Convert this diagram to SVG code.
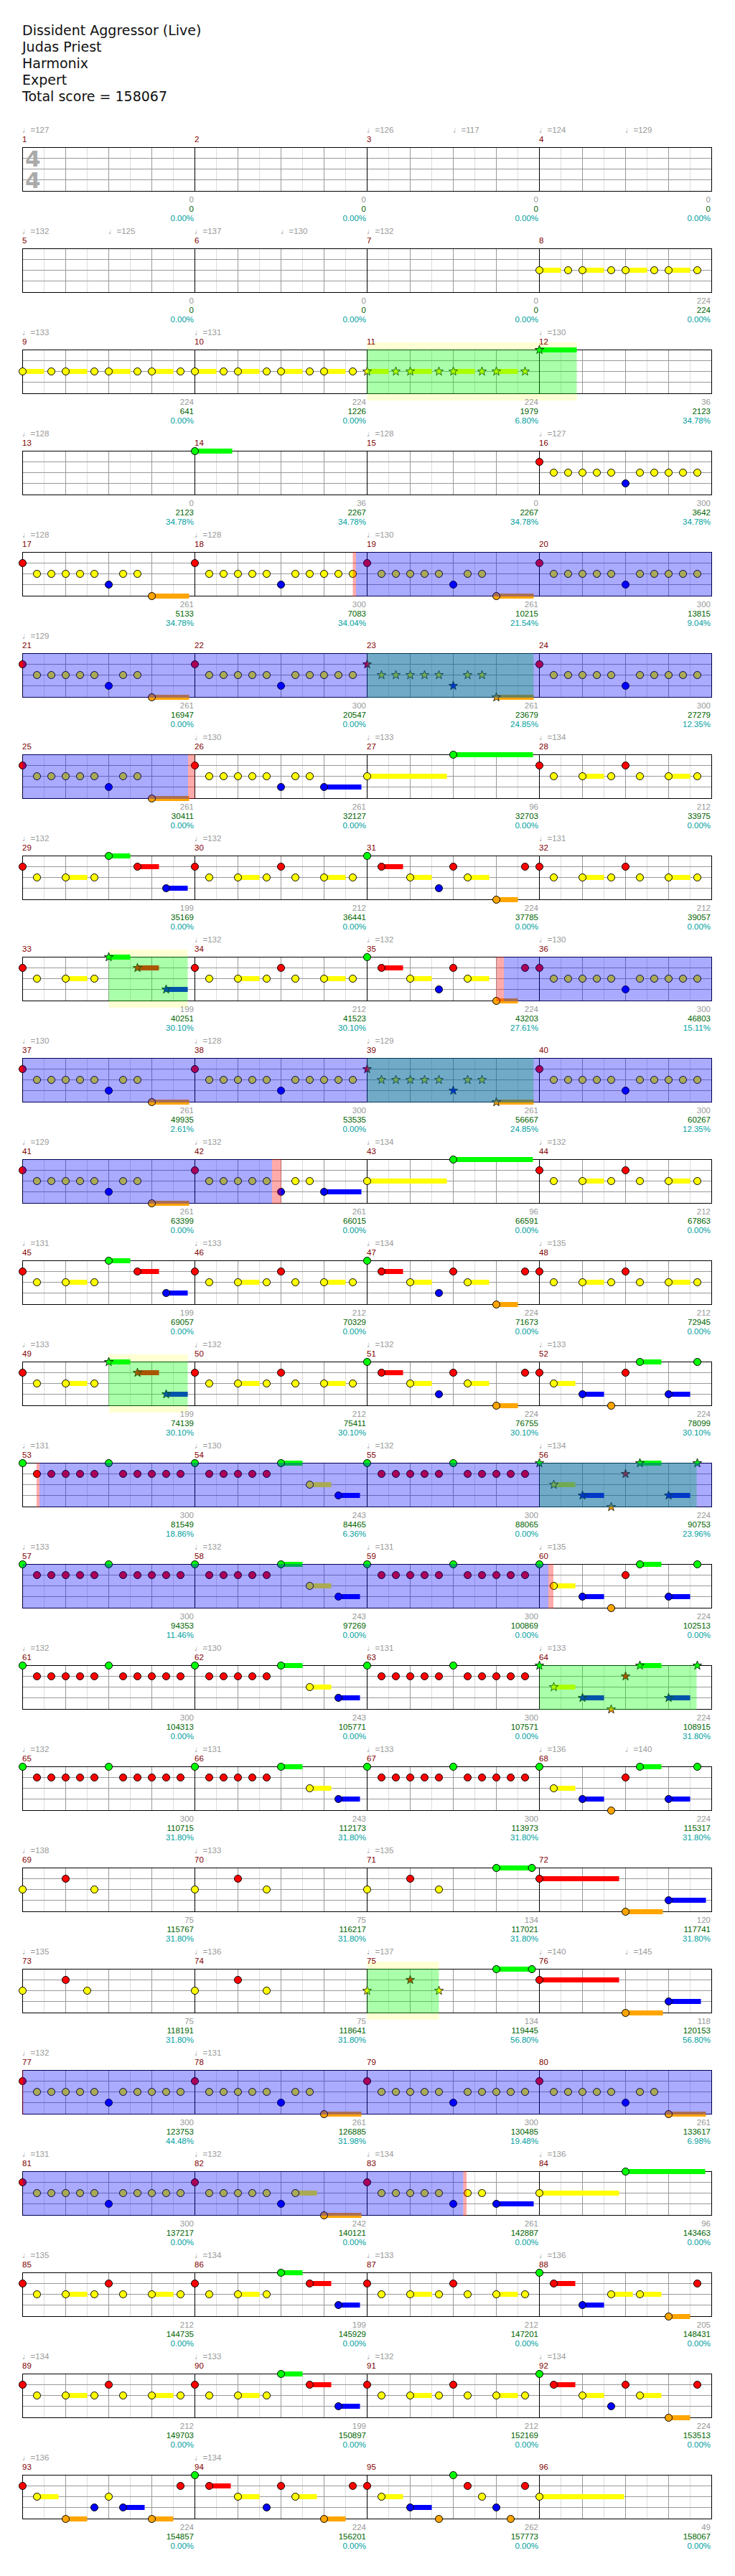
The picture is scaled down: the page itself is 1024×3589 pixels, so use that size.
<svg xmlns="http://www.w3.org/2000/svg" width="1024" height="3589" viewBox="0 0 1024 3589">
<style>
text{font-family:'Liberation Sans',Arial,sans-serif;font-size:11.5px}
.ti{font-family:'DejaVu Sans',Verdana,sans-serif;font-size:19px;fill:#111}
.ts{font-family:'DejaVu Sans',sans-serif;font-size:31px;font-weight:bold;fill:#aaa}
.tp{fill:#999}
.mn{fill:#800000}
.a,.b2,.c3{text-anchor:end}
.a{fill:#999}.b2{fill:#006400}.c3{fill:#00a0a0}
.g{fill:#0f0}.r{fill:#f00}.y{fill:#ff0}.b{fill:#00f}.o{fill:#ffa500}
.n{stroke:#000;stroke-width:1}
.st{stroke:#000;stroke-width:.8}
.ov{fill:#00f;fill-opacity:.333}
.sp{fill:#0f0;fill-opacity:.333}
.pk{fill:#f00;fill-opacity:.333}
.yr{fill:#ffffd4}
</style>
<defs>
<g id="staff">
<rect x="31.5" y="0.5" width="960" height="61" fill="#fff"/>
<path stroke="#ddd" d="M61.5 1V61M121.5 1V61M181.5 1V61M241.5 1V61M301.5 1V61M361.5 1V61M421.5 1V61M481.5 1V61M541.5 1V61M601.5 1V61M661.5 1V61M721.5 1V61M781.5 1V61M841.5 1V61M901.5 1V61M961.5 1V61"/>
<path stroke="#999" d="M91.5 1V61M151.5 1V61M211.5 1V61M331.5 1V61M391.5 1V61M451.5 1V61M571.5 1V61M631.5 1V61M691.5 1V61M811.5 1V61M871.5 1V61M931.5 1V61M32 15.5H991M32 30.5H991M32 45.5H991"/>
<path stroke="#000" d="M271.5 1V61M511.5 1V61M751.5 1V61"/>
<rect x="31.5" y="0.5" width="960" height="61" fill="none" stroke="#000"/>
</g>
<circle id="G" cy="0.5" r="5" class="g n"/>
<circle id="R" cy="15.5" r="5" class="r n"/>
<circle id="Y" cy="30.5" r="5" class="y n"/>
<circle id="B" cy="45.5" r="5" class="b n"/>
<circle id="O" cy="61.5" r="5" class="o n"/>
<path id="SG" class="g st" transform="translate(0 .5)" d="M0-6.5L1.53-2.1L6.18-2.01L2.47.8L3.82 5.26L0 2.6L-3.82 5.26L-2.47.8L-6.18-2.01L-1.53-2.1Z"/>
<path id="SR" class="r st" transform="translate(0 15.5)" d="M0-6.5L1.53-2.1L6.18-2.01L2.47.8L3.82 5.26L0 2.6L-3.82 5.26L-2.47.8L-6.18-2.01L-1.53-2.1Z"/>
<path id="SY" class="y st" transform="translate(0 30.5)" d="M0-6.5L1.53-2.1L6.18-2.01L2.47.8L3.82 5.26L0 2.6L-3.82 5.26L-2.47.8L-6.18-2.01L-1.53-2.1Z"/>
<path id="SB" class="b st" transform="translate(0 45.5)" d="M0-6.5L1.53-2.1L6.18-2.01L2.47.8L3.82 5.26L0 2.6L-3.82 5.26L-2.47.8L-6.18-2.01L-1.53-2.1Z"/>
<path id="SO" class="o st" transform="translate(0 61.5)" d="M0-6.5L1.53-2.1L6.18-2.01L2.47.8L3.82 5.26L0 2.6L-3.82 5.26L-2.47.8L-6.18-2.01L-1.53-2.1Z"/>
<g id="rY"><use href="#R"/><use href="#Y" x="20"/><use href="#Y" x="40"/><use href="#Y" x="60"/><use href="#Y" x="80"/><use href="#Y" x="100"/><use href="#B" x="120"/></g>
<g id="pA"><rect class="o" x="180" y="58" width="52" height="7"/><use href="#rY"/><use href="#Y" x="140"/><use href="#Y" x="160"/><use href="#O" x="180"/></g>
<g id="pB"><use href="#rY"/><use href="#Y" x="140"/><use href="#Y" x="160"/><use href="#Y" x="180"/><use href="#Y" x="200"/><use href="#Y" x="220"/></g>
<g id="pK"><rect class="b" x="180" y="42" width="52" height="7"/><use href="#rY"/><use href="#Y" x="140"/><use href="#Y" x="160"/><use href="#B" x="180"/></g>
<g id="pAs"><rect class="o" x="180" y="58" width="52" height="7"/><use href="#SR"/><use href="#SY" x="20"/><use href="#SY" x="40"/><use href="#SY" x="60"/><use href="#SY" x="80"/><use href="#SY" x="100"/><use href="#SB" x="120"/><use href="#SY" x="140"/><use href="#SY" x="160"/><use href="#SO" x="180"/></g>
<g id="pC"><rect class="y" x="60" y="27" width="30" height="7"/><rect class="y" x="180" y="27" width="30" height="7"/><use href="#R"/><use href="#Y" x="20"/><use href="#Y" x="60"/><use href="#Y" x="100"/><use href="#R" x="120"/><use href="#Y" x="140"/><use href="#Y" x="180"/><use href="#Y" x="220"/></g>
<g id="pD"><rect class="r" x="20" y="12" width="30" height="7"/><rect class="y" x="60" y="27" width="30" height="7"/><rect class="y" x="140" y="27" width="30" height="7"/><rect class="o" x="180" y="58" width="30" height="7"/><use href="#G"/><use href="#R" x="20"/><use href="#Y" x="60"/><use href="#B" x="100"/><use href="#R" x="120"/><use href="#Y" x="140"/><use href="#O" x="180"/><use href="#R" x="220"/></g>
<g id="pE"><rect class="y" x="60" y="27" width="30" height="7"/><rect class="g" x="120" y="-3" width="30" height="7"/><rect class="r" x="160" y="12" width="30" height="7"/><rect class="b" x="200" y="42" width="30" height="7"/><use href="#R"/><use href="#Y" x="20"/><use href="#Y" x="60"/><use href="#Y" x="100"/><use href="#G" x="120"/><use href="#R" x="160"/><use href="#B" x="200"/></g>
<g id="pEs"><rect class="y" x="60" y="27" width="30" height="7"/><rect class="g" x="120" y="-3" width="30" height="7"/><rect class="r" x="160" y="12" width="30" height="7"/><rect class="b" x="200" y="42" width="30" height="7"/><use href="#R"/><use href="#Y" x="20"/><use href="#Y" x="60"/><use href="#Y" x="100"/><use href="#SG" x="120"/><use href="#SR" x="160"/><use href="#SB" x="200"/></g>
<g id="pF0"><rect class="y" x="20" y="27" width="30" height="7"/><rect class="b" x="60" y="42" width="30" height="7"/><rect class="g" x="140" y="-3" width="30" height="7"/><rect class="b" x="180" y="42" width="30" height="7"/><use href="#Y" x="20"/><use href="#B" x="60"/><use href="#O" x="100"/><use href="#R" x="120"/><use href="#G" x="140"/><use href="#B" x="180"/><use href="#G" x="220"/></g>
<g id="pFs"><rect class="y" x="20" y="27" width="30" height="7"/><rect class="b" x="60" y="42" width="30" height="7"/><rect class="g" x="140" y="-3" width="30" height="7"/><rect class="b" x="180" y="42" width="30" height="7"/><use href="#SG"/><use href="#SY" x="20"/><use href="#SB" x="60"/><use href="#SO" x="100"/><use href="#SR" x="120"/><use href="#SG" x="140"/><use href="#SB" x="180"/><use href="#SG" x="220"/></g>
<g id="r5"><use href="#R" x="20"/><use href="#R" x="40"/><use href="#R" x="60"/><use href="#R" x="80"/><use href="#R" x="100"/></g>
<g id="pG"><use href="#G"/><use href="#r5"/><use href="#G" x="120"/><use href="#r5" x="120"/></g>
<g id="pH"><rect class="g" x="120" y="-3" width="30" height="7"/><rect class="y" x="160" y="27" width="30" height="7"/><rect class="b" x="200" y="42" width="30" height="7"/><use href="#G"/><use href="#r5"/><use href="#G" x="120"/><use href="#Y" x="160"/><use href="#B" x="200"/></g>
<g id="pL"><rect class="y" x="0" y="27" width="111" height="7"/><rect class="g" x="120" y="-3" width="111" height="7"/><use href="#Y"/><use href="#G" x="120"/></g>
<g id="pM"><use href="#Y"/><use href="#R" x="60"/><use href="#Y" x="100"/></g>
<g id="p8"><rect class="y" x="0" y="27" width="30" height="7"/><rect class="y" x="60" y="27" width="30" height="7"/><rect class="y" x="120" y="27" width="30" height="7"/><rect class="y" x="180" y="27" width="30" height="7"/><use href="#Y"/><use href="#Y" x="40"/><use href="#Y" x="60"/><use href="#Y" x="100"/><use href="#Y" x="120"/><use href="#Y" x="160"/><use href="#Y" x="180"/><use href="#Y" x="220"/></g>
<g id="p8s"><rect class="y" x="0" y="27" width="30" height="7"/><rect class="y" x="60" y="27" width="30" height="7"/><rect class="y" x="120" y="27" width="30" height="7"/><rect class="y" x="180" y="27" width="30" height="7"/><use href="#SY"/><use href="#SY" x="40"/><use href="#SY" x="60"/><use href="#SY" x="100"/><use href="#SY" x="120"/><use href="#SY" x="160"/><use href="#SY" x="180"/><use href="#SY" x="220"/></g>
</defs>
<rect width="1024" height="3589" fill="#fff"/>
<g id="title">
<text class="ti" x="31" y="49">Dissident Aggressor (Live)</text>
<text class="ti" x="31" y="72">Judas Priest</text>
<text class="ti" x="31" y="95">Harmonix</text>
<text class="ti" x="31" y="118">Expert</text>
<text class="ti" x="31" y="141">Total score = 158067</text>
</g>

<g id="row1" transform="translate(0,205)">
<use href="#staff"/>
<text class="ts" x="35" y="27">4</text><text class="ts" x="35" y="57">4</text>
<text class="tp" x="31" y="-20">♩=127</text><text class="tp" x="511" y="-20">♩=126</text><text class="tp" x="631" y="-20">♩=117</text><text class="tp" x="751" y="-20">♩=124</text><text class="tp" x="871" y="-20">♩=129</text>
<text class="mn" x="31" y="-7">1</text><text class="mn" x="271" y="-7">2</text><text class="mn" x="511" y="-7">3</text><text class="mn" x="751" y="-7">4</text>
<text class="a" x="270" y="77">0</text><text class="b2" x="270" y="90">0</text><text class="c3" x="270" y="102.5">0.00%</text>
<text class="a" x="510" y="77">0</text><text class="b2" x="510" y="90">0</text><text class="c3" x="510" y="102.5">0.00%</text>
<text class="a" x="750" y="77">0</text><text class="b2" x="750" y="90">0</text><text class="c3" x="750" y="102.5">0.00%</text>
<text class="a" x="990" y="77">0</text><text class="b2" x="990" y="90">0</text><text class="c3" x="990" y="102.5">0.00%</text>
</g>

<g id="row2" transform="translate(0,346)">
<use href="#staff"/>
<g id="m8"><use href="#p8" x="751.5"/></g>
<text class="tp" x="31" y="-20">♩=132</text><text class="tp" x="151" y="-20">♩=125</text><text class="tp" x="271" y="-20">♩=137</text><text class="tp" x="391" y="-20">♩=130</text><text class="tp" x="511" y="-20">♩=132</text>
<text class="mn" x="31" y="-7">5</text><text class="mn" x="271" y="-7">6</text><text class="mn" x="511" y="-7">7</text><text class="mn" x="751" y="-7">8</text>
<text class="a" x="270" y="77">0</text><text class="b2" x="270" y="90">0</text><text class="c3" x="270" y="102.5">0.00%</text>
<text class="a" x="510" y="77">0</text><text class="b2" x="510" y="90">0</text><text class="c3" x="510" y="102.5">0.00%</text>
<text class="a" x="750" y="77">0</text><text class="b2" x="750" y="90">0</text><text class="c3" x="750" y="102.5">0.00%</text>
<text class="a" x="990" y="77">224</text><text class="b2" x="990" y="90">224</text><text class="c3" x="990" y="102.5">0.00%</text>
</g>

<g id="row3" transform="translate(0,487)">
<rect class="yr" x="511.5" y="-10" width="292" height="81"/>
<use href="#staff"/>
<g id="m9"><use href="#p8" x="31.5"/></g>
<g id="m10"><use href="#p8" x="271.5"/></g>
<g id="m11"><use href="#p8s" x="511.5"/></g>
<g id="m12"><rect class="g" x="751.5" y="-3" width="52" height="7"/><use href="#SG" x="751.5"/></g>
<rect class="sp" x="511.5" y="0" width="292" height="62"/>
<text class="tp" x="31" y="-20">♩=133</text><text class="tp" x="271" y="-20">♩=131</text><text class="tp" x="751" y="-20">♩=130</text>
<text class="mn" x="31" y="-7">9</text><text class="mn" x="271" y="-7">10</text><text class="mn" x="511" y="-7">11</text><text class="mn" x="751" y="-7">12</text>
<text class="a" x="270" y="77">224</text><text class="b2" x="270" y="90">641</text><text class="c3" x="270" y="102.5">0.00%</text>
<text class="a" x="510" y="77">224</text><text class="b2" x="510" y="90">1226</text><text class="c3" x="510" y="102.5">0.00%</text>
<text class="a" x="750" y="77">224</text><text class="b2" x="750" y="90">1979</text><text class="c3" x="750" y="102.5">6.80%</text>
<text class="a" x="990" y="77">36</text><text class="b2" x="990" y="90">2123</text><text class="c3" x="990" y="102.5">34.78%</text>
</g>

<g id="row4" transform="translate(0,628)">
<use href="#staff"/>
<g id="m14"><rect class="g" x="271.5" y="-3" width="52" height="7"/><use href="#G" x="271.5"/></g>
<g id="m16"><use href="#pB" x="751.5"/></g>
<text class="tp" x="31" y="-20">♩=128</text><text class="tp" x="511" y="-20">♩=128</text><text class="tp" x="751" y="-20">♩=127</text>
<text class="mn" x="31" y="-7">13</text><text class="mn" x="271" y="-7">14</text><text class="mn" x="511" y="-7">15</text><text class="mn" x="751" y="-7">16</text>
<text class="a" x="270" y="77">0</text><text class="b2" x="270" y="90">2123</text><text class="c3" x="270" y="102.5">34.78%</text>
<text class="a" x="510" y="77">36</text><text class="b2" x="510" y="90">2267</text><text class="c3" x="510" y="102.5">34.78%</text>
<text class="a" x="750" y="77">0</text><text class="b2" x="750" y="90">2267</text><text class="c3" x="750" y="102.5">34.78%</text>
<text class="a" x="990" y="77">300</text><text class="b2" x="990" y="90">3642</text><text class="c3" x="990" y="102.5">34.78%</text>
</g>

<g id="row5" transform="translate(0,769)">
<use href="#staff"/>
<g id="m17"><use href="#pA" x="31.5"/></g>
<g id="m18"><use href="#pB" x="271.5"/></g>
<g id="m19"><use href="#pA" x="511.5"/></g>
<g id="m20"><use href="#pB" x="751.5"/></g>
<rect class="pk" x="491.5" y="0" width="4.5" height="62"/>
<rect class="ov" x="496" y="0" width="496" height="62"/>
<text class="tp" x="31" y="-20">♩=128</text><text class="tp" x="271" y="-20">♩=128</text><text class="tp" x="511" y="-20">♩=130</text>
<text class="mn" x="31" y="-7">17</text><text class="mn" x="271" y="-7">18</text><text class="mn" x="511" y="-7">19</text><text class="mn" x="751" y="-7">20</text>
<text class="a" x="270" y="77">261</text><text class="b2" x="270" y="90">5133</text><text class="c3" x="270" y="102.5">34.78%</text>
<text class="a" x="510" y="77">300</text><text class="b2" x="510" y="90">7083</text><text class="c3" x="510" y="102.5">34.04%</text>
<text class="a" x="750" y="77">261</text><text class="b2" x="750" y="90">10215</text><text class="c3" x="750" y="102.5">21.54%</text>
<text class="a" x="990" y="77">300</text><text class="b2" x="990" y="90">13815</text><text class="c3" x="990" y="102.5">9.04%</text>
</g>

<g id="row6" transform="translate(0,910)">
<use href="#staff"/>
<g id="m21"><use href="#pA" x="31.5"/></g>
<g id="m22"><use href="#pB" x="271.5"/></g>
<g id="m23"><use href="#pAs" x="511.5"/></g>
<g id="m24"><use href="#pB" x="751.5"/></g>
<rect class="sp" x="511.5" y="0" width="232" height="62"/>
<rect class="ov" x="31.5" y="0" width="960.5" height="62"/>
<text class="tp" x="31" y="-20">♩=129</text>
<text class="mn" x="31" y="-7">21</text><text class="mn" x="271" y="-7">22</text><text class="mn" x="511" y="-7">23</text><text class="mn" x="751" y="-7">24</text>
<text class="a" x="270" y="77">261</text><text class="b2" x="270" y="90">16947</text><text class="c3" x="270" y="102.5">0.00%</text>
<text class="a" x="510" y="77">300</text><text class="b2" x="510" y="90">20547</text><text class="c3" x="510" y="102.5">0.00%</text>
<text class="a" x="750" y="77">261</text><text class="b2" x="750" y="90">23679</text><text class="c3" x="750" y="102.5">24.85%</text>
<text class="a" x="990" y="77">300</text><text class="b2" x="990" y="90">27279</text><text class="c3" x="990" y="102.5">12.35%</text>
</g>

<g id="row7" transform="translate(0,1051)">
<use href="#staff"/>
<g id="m25"><use href="#pA" x="31.5"/></g>
<g id="m26"><use href="#pK" x="271.5"/></g>
<g id="m27"><use href="#pL" x="511.5"/></g>
<g id="m28"><use href="#pC" x="751.5"/></g>
<rect class="ov" x="31.5" y="0" width="230.5" height="62"/>
<rect class="pk" x="262" y="0" width="9.5" height="62"/>
<text class="tp" x="271" y="-20">♩=130</text><text class="tp" x="511" y="-20">♩=133</text><text class="tp" x="751" y="-20">♩=134</text>
<text class="mn" x="31" y="-7">25</text><text class="mn" x="271" y="-7">26</text><text class="mn" x="511" y="-7">27</text><text class="mn" x="751" y="-7">28</text>
<text class="a" x="270" y="77">261</text><text class="b2" x="270" y="90">30411</text><text class="c3" x="270" y="102.5">0.00%</text>
<text class="a" x="510" y="77">261</text><text class="b2" x="510" y="90">32127</text><text class="c3" x="510" y="102.5">0.00%</text>
<text class="a" x="750" y="77">96</text><text class="b2" x="750" y="90">32703</text><text class="c3" x="750" y="102.5">0.00%</text>
<text class="a" x="990" y="77">212</text><text class="b2" x="990" y="90">33975</text><text class="c3" x="990" y="102.5">0.00%</text>
</g>

<g id="row8" transform="translate(0,1192)">
<use href="#staff"/>
<g id="m29"><use href="#pE" x="31.5"/></g>
<g id="m30"><use href="#pC" x="271.5"/></g>
<g id="m31"><use href="#pD" x="511.5"/></g>
<g id="m32"><use href="#pC" x="751.5"/></g>
<text class="tp" x="31" y="-20">♩=132</text><text class="tp" x="271" y="-20">♩=132</text><text class="tp" x="751" y="-20">♩=131</text>
<text class="mn" x="31" y="-7">29</text><text class="mn" x="271" y="-7">30</text><text class="mn" x="511" y="-7">31</text><text class="mn" x="751" y="-7">32</text>
<text class="a" x="270" y="77">199</text><text class="b2" x="270" y="90">35169</text><text class="c3" x="270" y="102.5">0.00%</text>
<text class="a" x="510" y="77">212</text><text class="b2" x="510" y="90">36441</text><text class="c3" x="510" y="102.5">0.00%</text>
<text class="a" x="750" y="77">224</text><text class="b2" x="750" y="90">37785</text><text class="c3" x="750" y="102.5">0.00%</text>
<text class="a" x="990" y="77">212</text><text class="b2" x="990" y="90">39057</text><text class="c3" x="990" y="102.5">0.00%</text>
</g>

<g id="row9" transform="translate(0,1333)">
<rect class="yr" x="151.5" y="-10" width="110" height="81"/>
<use href="#staff"/>
<g id="m33"><use href="#pEs" x="31.5"/></g>
<g id="m34"><use href="#pC" x="271.5"/></g>
<g id="m35"><use href="#pD" x="511.5"/></g>
<g id="m36"><use href="#pB" x="751.5"/></g>
<rect class="sp" x="151.5" y="0" width="110" height="62"/>
<rect class="pk" x="691.5" y="0" width="10.5" height="62"/>
<rect class="ov" x="702" y="0" width="290" height="62"/>
<text class="tp" x="271" y="-20">♩=132</text><text class="tp" x="511" y="-20">♩=132</text><text class="tp" x="751" y="-20">♩=130</text>
<text class="mn" x="31" y="-7">33</text><text class="mn" x="271" y="-7">34</text><text class="mn" x="511" y="-7">35</text><text class="mn" x="751" y="-7">36</text>
<text class="a" x="270" y="77">199</text><text class="b2" x="270" y="90">40251</text><text class="c3" x="270" y="102.5">30.10%</text>
<text class="a" x="510" y="77">212</text><text class="b2" x="510" y="90">41523</text><text class="c3" x="510" y="102.5">30.10%</text>
<text class="a" x="750" y="77">224</text><text class="b2" x="750" y="90">43203</text><text class="c3" x="750" y="102.5">27.61%</text>
<text class="a" x="990" y="77">300</text><text class="b2" x="990" y="90">46803</text><text class="c3" x="990" y="102.5">15.11%</text>
</g>

<g id="row10" transform="translate(0,1474)">
<use href="#staff"/>
<g id="m37"><use href="#pA" x="31.5"/></g>
<g id="m38"><use href="#pB" x="271.5"/></g>
<g id="m39"><use href="#pAs" x="511.5"/></g>
<g id="m40"><use href="#pB" x="751.5"/></g>
<rect class="sp" x="511.5" y="0" width="232" height="62"/>
<rect class="ov" x="31.5" y="0" width="960.5" height="62"/>
<text class="tp" x="31" y="-20">♩=130</text><text class="tp" x="271" y="-20">♩=128</text><text class="tp" x="511" y="-20">♩=129</text>
<text class="mn" x="31" y="-7">37</text><text class="mn" x="271" y="-7">38</text><text class="mn" x="511" y="-7">39</text><text class="mn" x="751" y="-7">40</text>
<text class="a" x="270" y="77">261</text><text class="b2" x="270" y="90">49935</text><text class="c3" x="270" y="102.5">2.61%</text>
<text class="a" x="510" y="77">300</text><text class="b2" x="510" y="90">53535</text><text class="c3" x="510" y="102.5">0.00%</text>
<text class="a" x="750" y="77">261</text><text class="b2" x="750" y="90">56667</text><text class="c3" x="750" y="102.5">24.85%</text>
<text class="a" x="990" y="77">300</text><text class="b2" x="990" y="90">60267</text><text class="c3" x="990" y="102.5">12.35%</text>
</g>

<g id="row11" transform="translate(0,1615)">
<use href="#staff"/>
<g id="m41"><use href="#pA" x="31.5"/></g>
<g id="m42"><use href="#pK" x="271.5"/></g>
<g id="m43"><use href="#pL" x="511.5"/></g>
<g id="m44"><use href="#pC" x="751.5"/></g>
<rect class="ov" x="31.5" y="0" width="347.5" height="62"/>
<rect class="pk" x="379" y="0" width="13" height="62"/>
<text class="tp" x="31" y="-20">♩=129</text><text class="tp" x="271" y="-20">♩=132</text><text class="tp" x="511" y="-20">♩=134</text><text class="tp" x="751" y="-20">♩=132</text>
<text class="mn" x="31" y="-7">41</text><text class="mn" x="271" y="-7">42</text><text class="mn" x="511" y="-7">43</text><text class="mn" x="751" y="-7">44</text>
<text class="a" x="270" y="77">261</text><text class="b2" x="270" y="90">63399</text><text class="c3" x="270" y="102.5">0.00%</text>
<text class="a" x="510" y="77">261</text><text class="b2" x="510" y="90">66015</text><text class="c3" x="510" y="102.5">0.00%</text>
<text class="a" x="750" y="77">96</text><text class="b2" x="750" y="90">66591</text><text class="c3" x="750" y="102.5">0.00%</text>
<text class="a" x="990" y="77">212</text><text class="b2" x="990" y="90">67863</text><text class="c3" x="990" y="102.5">0.00%</text>
</g>

<g id="row12" transform="translate(0,1756)">
<use href="#staff"/>
<g id="m45"><use href="#pE" x="31.5"/></g>
<g id="m46"><use href="#pC" x="271.5"/></g>
<g id="m47"><use href="#pD" x="511.5"/></g>
<g id="m48"><use href="#pC" x="751.5"/></g>
<text class="tp" x="31" y="-20">♩=131</text><text class="tp" x="271" y="-20">♩=133</text><text class="tp" x="511" y="-20">♩=134</text><text class="tp" x="751" y="-20">♩=135</text>
<text class="mn" x="31" y="-7">45</text><text class="mn" x="271" y="-7">46</text><text class="mn" x="511" y="-7">47</text><text class="mn" x="751" y="-7">48</text>
<text class="a" x="270" y="77">199</text><text class="b2" x="270" y="90">69057</text><text class="c3" x="270" y="102.5">0.00%</text>
<text class="a" x="510" y="77">212</text><text class="b2" x="510" y="90">70329</text><text class="c3" x="510" y="102.5">0.00%</text>
<text class="a" x="750" y="77">224</text><text class="b2" x="750" y="90">71673</text><text class="c3" x="750" y="102.5">0.00%</text>
<text class="a" x="990" y="77">212</text><text class="b2" x="990" y="90">72945</text><text class="c3" x="990" y="102.5">0.00%</text>
</g>

<g id="row13" transform="translate(0,1897)">
<rect class="yr" x="151.5" y="-10" width="110" height="81"/>
<use href="#staff"/>
<g id="m49"><use href="#pEs" x="31.5"/></g>
<g id="m50"><use href="#pC" x="271.5"/></g>
<g id="m51"><use href="#pD" x="511.5"/></g>
<g id="m52"><use href="#pF0" x="751.5"/><use href="#R" x="751.5"/></g>
<rect class="sp" x="151.5" y="0" width="110" height="62"/>
<text class="tp" x="31" y="-20">♩=133</text><text class="tp" x="271" y="-20">♩=132</text><text class="tp" x="511" y="-20">♩=132</text><text class="tp" x="751" y="-20">♩=133</text>
<text class="mn" x="31" y="-7">49</text><text class="mn" x="271" y="-7">50</text><text class="mn" x="511" y="-7">51</text><text class="mn" x="751" y="-7">52</text>
<text class="a" x="270" y="77">199</text><text class="b2" x="270" y="90">74139</text><text class="c3" x="270" y="102.5">30.10%</text>
<text class="a" x="510" y="77">212</text><text class="b2" x="510" y="90">75411</text><text class="c3" x="510" y="102.5">30.10%</text>
<text class="a" x="750" y="77">224</text><text class="b2" x="750" y="90">76755</text><text class="c3" x="750" y="102.5">30.10%</text>
<text class="a" x="990" y="77">224</text><text class="b2" x="990" y="90">78099</text><text class="c3" x="990" y="102.5">30.10%</text>
</g>

<g id="row14" transform="translate(0,2038)">
<use href="#staff"/>
<g id="m53"><use href="#pG" x="31.5"/></g>
<g id="m54"><use href="#pH" x="271.5"/></g>
<g id="m55"><use href="#pG" x="511.5"/></g>
<g id="m56"><use href="#pFs" x="751.5"/></g>
<rect class="sp" x="751.5" y="0" width="219" height="62"/>
<rect class="pk" x="51" y="0" width="4" height="62"/>
<rect class="ov" x="55" y="0" width="937" height="62"/>
<text class="tp" x="31" y="-20">♩=131</text><text class="tp" x="271" y="-20">♩=130</text><text class="tp" x="511" y="-20">♩=132</text><text class="tp" x="751" y="-20">♩=134</text>
<text class="mn" x="31" y="-7">53</text><text class="mn" x="271" y="-7">54</text><text class="mn" x="511" y="-7">55</text><text class="mn" x="751" y="-7">56</text>
<text class="a" x="270" y="77">300</text><text class="b2" x="270" y="90">81549</text><text class="c3" x="270" y="102.5">18.86%</text>
<text class="a" x="510" y="77">243</text><text class="b2" x="510" y="90">84465</text><text class="c3" x="510" y="102.5">6.36%</text>
<text class="a" x="750" y="77">300</text><text class="b2" x="750" y="90">88065</text><text class="c3" x="750" y="102.5">0.00%</text>
<text class="a" x="990" y="77">224</text><text class="b2" x="990" y="90">90753</text><text class="c3" x="990" y="102.5">23.96%</text>
</g>

<g id="row15" transform="translate(0,2179)">
<use href="#staff"/>
<g id="m57"><use href="#pG" x="31.5"/></g>
<g id="m58"><use href="#pH" x="271.5"/></g>
<g id="m59"><use href="#pG" x="511.5"/></g>
<g id="m60"><use href="#pF0" x="751.5"/><use href="#G" x="751.5"/></g>
<rect class="ov" x="31.5" y="0" width="732.5" height="62"/>
<rect class="pk" x="764" y="0" width="7" height="62"/>
<text class="tp" x="31" y="-20">♩=133</text><text class="tp" x="271" y="-20">♩=132</text><text class="tp" x="511" y="-20">♩=131</text><text class="tp" x="751" y="-20">♩=135</text>
<text class="mn" x="31" y="-7">57</text><text class="mn" x="271" y="-7">58</text><text class="mn" x="511" y="-7">59</text><text class="mn" x="751" y="-7">60</text>
<text class="a" x="270" y="77">300</text><text class="b2" x="270" y="90">94353</text><text class="c3" x="270" y="102.5">11.46%</text>
<text class="a" x="510" y="77">243</text><text class="b2" x="510" y="90">97269</text><text class="c3" x="510" y="102.5">0.00%</text>
<text class="a" x="750" y="77">300</text><text class="b2" x="750" y="90">100869</text><text class="c3" x="750" y="102.5">0.00%</text>
<text class="a" x="990" y="77">224</text><text class="b2" x="990" y="90">102513</text><text class="c3" x="990" y="102.5">0.00%</text>
</g>

<g id="row16" transform="translate(0,2320)">
<use href="#staff"/>
<g id="m61"><use href="#pG" x="31.5"/></g>
<g id="m62"><use href="#pH" x="271.5"/></g>
<g id="m63"><use href="#pG" x="511.5"/></g>
<g id="m64"><use href="#pFs" x="751.5"/></g>
<rect class="sp" x="751.5" y="0" width="219" height="62"/>
<text class="tp" x="31" y="-20">♩=132</text><text class="tp" x="271" y="-20">♩=130</text><text class="tp" x="511" y="-20">♩=131</text><text class="tp" x="751" y="-20">♩=133</text>
<text class="mn" x="31" y="-7">61</text><text class="mn" x="271" y="-7">62</text><text class="mn" x="511" y="-7">63</text><text class="mn" x="751" y="-7">64</text>
<text class="a" x="270" y="77">300</text><text class="b2" x="270" y="90">104313</text><text class="c3" x="270" y="102.5">0.00%</text>
<text class="a" x="510" y="77">243</text><text class="b2" x="510" y="90">105771</text><text class="c3" x="510" y="102.5">0.00%</text>
<text class="a" x="750" y="77">300</text><text class="b2" x="750" y="90">107571</text><text class="c3" x="750" y="102.5">0.00%</text>
<text class="a" x="990" y="77">224</text><text class="b2" x="990" y="90">108915</text><text class="c3" x="990" y="102.5">31.80%</text>
</g>

<g id="row17" transform="translate(0,2461)">
<use href="#staff"/>
<g id="m65"><use href="#pG" x="31.5"/></g>
<g id="m66"><use href="#pH" x="271.5"/></g>
<g id="m67"><use href="#pG" x="511.5"/></g>
<g id="m68"><use href="#pF0" x="751.5"/><use href="#G" x="751.5"/></g>
<text class="tp" x="31" y="-20">♩=132</text><text class="tp" x="271" y="-20">♩=131</text><text class="tp" x="511" y="-20">♩=133</text><text class="tp" x="751" y="-20">♩=136</text><text class="tp" x="871" y="-20">♩=140</text>
<text class="mn" x="31" y="-7">65</text><text class="mn" x="271" y="-7">66</text><text class="mn" x="511" y="-7">67</text><text class="mn" x="751" y="-7">68</text>
<text class="a" x="270" y="77">300</text><text class="b2" x="270" y="90">110715</text><text class="c3" x="270" y="102.5">31.80%</text>
<text class="a" x="510" y="77">243</text><text class="b2" x="510" y="90">112173</text><text class="c3" x="510" y="102.5">31.80%</text>
<text class="a" x="750" y="77">300</text><text class="b2" x="750" y="90">113973</text><text class="c3" x="750" y="102.5">31.80%</text>
<text class="a" x="990" y="77">224</text><text class="b2" x="990" y="90">115317</text><text class="c3" x="990" y="102.5">31.80%</text>
</g>

<g id="row18" transform="translate(0,2602)">
<use href="#staff"/>
<g id="m69"><use href="#pM" x="31.5"/></g>
<g id="m70"><use href="#pM" x="271.5"/></g>
<g id="m71"><rect class="g" x="691.5" y="-3" width="49.5" height="7"/><use href="#pM" x="511.5"/><use href="#G" x="691.5"/><use href="#G" x="741"/></g>
<g id="m72"><rect class="r" x="751.5" y="12" width="111" height="7"/><rect class="o" x="871.5" y="58" width="52" height="7"/><rect class="b" x="931.5" y="42" width="52" height="7"/><use href="#R" x="751.5"/><use href="#O" x="871.5"/><use href="#B" x="931.5"/></g>
<text class="tp" x="31" y="-20">♩=138</text><text class="tp" x="271" y="-20">♩=133</text><text class="tp" x="511" y="-20">♩=135</text>
<text class="mn" x="31" y="-7">69</text><text class="mn" x="271" y="-7">70</text><text class="mn" x="511" y="-7">71</text><text class="mn" x="751" y="-7">72</text>
<text class="a" x="270" y="77">75</text><text class="b2" x="270" y="90">115767</text><text class="c3" x="270" y="102.5">31.80%</text>
<text class="a" x="510" y="77">75</text><text class="b2" x="510" y="90">116217</text><text class="c3" x="510" y="102.5">31.80%</text>
<text class="a" x="750" y="77">134</text><text class="b2" x="750" y="90">117021</text><text class="c3" x="750" y="102.5">31.80%</text>
<text class="a" x="990" y="77">120</text><text class="b2" x="990" y="90">117741</text><text class="c3" x="990" y="102.5">31.80%</text>
</g>

<g id="row19" transform="translate(0,2743)">
<rect class="yr" x="511.5" y="-10" width="100" height="81"/>
<use href="#staff"/>
<g id="m73"><use href="#Y" x="31.5"/><use href="#R" x="91.5"/><use href="#Y" x="121.5"/></g>
<g id="m74"><use href="#pM" x="271.5"/></g>
<g id="m75"><rect class="g" x="691.5" y="-3" width="49.5" height="7"/><use href="#SY" x="511.5"/><use href="#SR" x="571.5"/><use href="#SY" x="611.5"/><use href="#G" x="691.5"/><use href="#G" x="741"/></g>
<g id="m76"><rect class="r" x="751.5" y="12" width="111" height="7"/><rect class="o" x="871.5" y="58" width="52" height="7"/><rect class="b" x="931.5" y="42" width="45" height="7"/><use href="#R" x="751.5"/><use href="#O" x="871.5"/><use href="#B" x="931.5"/></g>
<rect class="sp" x="511.5" y="0" width="100" height="62"/>
<text class="tp" x="31" y="-20">♩=135</text><text class="tp" x="271" y="-20">♩=136</text><text class="tp" x="511" y="-20">♩=137</text><text class="tp" x="751" y="-20">♩=140</text><text class="tp" x="871" y="-20">♩=145</text>
<text class="mn" x="31" y="-7">73</text><text class="mn" x="271" y="-7">74</text><text class="mn" x="511" y="-7">75</text><text class="mn" x="751" y="-7">76</text>
<text class="a" x="270" y="77">75</text><text class="b2" x="270" y="90">118191</text><text class="c3" x="270" y="102.5">31.80%</text>
<text class="a" x="510" y="77">75</text><text class="b2" x="510" y="90">118641</text><text class="c3" x="510" y="102.5">31.80%</text>
<text class="a" x="750" y="77">134</text><text class="b2" x="750" y="90">119445</text><text class="c3" x="750" y="102.5">56.80%</text>
<text class="a" x="990" y="77">118</text><text class="b2" x="990" y="90">120153</text><text class="c3" x="990" y="102.5">56.80%</text>
</g>

<g id="row20" transform="translate(0,2884)">
<use href="#staff"/>
<g id="m77"><use href="#pB" x="31.5"/></g>
<g id="m78"><use href="#pA" x="271.5"/></g>
<g id="m79"><use href="#pB" x="511.5"/></g>
<g id="m80"><use href="#pA" x="751.5"/></g>
<rect class="ov" x="31.5" y="0" width="960.5" height="62"/>
<rect class="pk" x="31" y="0" width="1.5" height="62"/>
<text class="tp" x="31" y="-20">♩=132</text><text class="tp" x="271" y="-20">♩=131</text>
<text class="mn" x="31" y="-7">77</text><text class="mn" x="271" y="-7">78</text><text class="mn" x="511" y="-7">79</text><text class="mn" x="751" y="-7">80</text>
<text class="a" x="270" y="77">300</text><text class="b2" x="270" y="90">123753</text><text class="c3" x="270" y="102.5">44.48%</text>
<text class="a" x="510" y="77">261</text><text class="b2" x="510" y="90">126885</text><text class="c3" x="510" y="102.5">31.98%</text>
<text class="a" x="750" y="77">300</text><text class="b2" x="750" y="90">130485</text><text class="c3" x="750" y="102.5">19.48%</text>
<text class="a" x="990" y="77">261</text><text class="b2" x="990" y="90">133617</text><text class="c3" x="990" y="102.5">6.98%</text>
</g>

<g id="row21" transform="translate(0,3025)">
<use href="#staff"/>
<g id="m81"><use href="#pB" x="31.5"/></g>
<g id="m82"><rect class="y" x="411.5" y="27" width="30" height="7"/><rect class="o" x="451.5" y="58" width="52" height="7"/><use href="#rY" x="271.5"/><use href="#Y" x="411.5"/><use href="#O" x="451.5"/></g>
<g id="m83"><use href="#pK" x="511.5"/></g>
<g id="m84"><use href="#pL" x="751.5"/></g>
<rect class="ov" x="31.5" y="0" width="614" height="62"/>
<rect class="pk" x="645.5" y="0" width="4.5" height="62"/>
<text class="tp" x="31" y="-20">♩=131</text><text class="tp" x="271" y="-20">♩=132</text><text class="tp" x="511" y="-20">♩=134</text><text class="tp" x="751" y="-20">♩=136</text>
<text class="mn" x="31" y="-7">81</text><text class="mn" x="271" y="-7">82</text><text class="mn" x="511" y="-7">83</text><text class="mn" x="751" y="-7">84</text>
<text class="a" x="270" y="77">300</text><text class="b2" x="270" y="90">137217</text><text class="c3" x="270" y="102.5">0.00%</text>
<text class="a" x="510" y="77">242</text><text class="b2" x="510" y="90">140121</text><text class="c3" x="510" y="102.5">0.00%</text>
<text class="a" x="750" y="77">261</text><text class="b2" x="750" y="90">142887</text><text class="c3" x="750" y="102.5">0.00%</text>
<text class="a" x="990" y="77">96</text><text class="b2" x="990" y="90">143463</text><text class="c3" x="990" y="102.5">0.00%</text>
</g>

<g id="row22" transform="translate(0,3166)">
<use href="#staff"/>
<g id="m85"><use href="#pC" x="31.5"/></g>
<g id="m86"><use href="#pE" x="271.5"/></g>
<g id="m87"><use href="#pC" x="511.5"/></g>
<g id="m88" transform="translate(751.5,0)"><rect class="r" x="20" y="12" width="30" height="7"/><rect class="b" x="60" y="42" width="30" height="7"/><rect class="y" x="100" y="27" width="30" height="7"/><rect class="y" x="140" y="27" width="30" height="7"/><rect class="o" x="180" y="58" width="30" height="7"/><use href="#G"/><use href="#R" x="20"/><use href="#B" x="60"/><use href="#Y" x="100"/><use href="#Y" x="140"/><use href="#O" x="180"/><use href="#R" x="220"/></g>
<text class="tp" x="31" y="-20">♩=135</text><text class="tp" x="271" y="-20">♩=134</text><text class="tp" x="511" y="-20">♩=133</text><text class="tp" x="751" y="-20">♩=136</text>
<text class="mn" x="31" y="-7">85</text><text class="mn" x="271" y="-7">86</text><text class="mn" x="511" y="-7">87</text><text class="mn" x="751" y="-7">88</text>
<text class="a" x="270" y="77">212</text><text class="b2" x="270" y="90">144735</text><text class="c3" x="270" y="102.5">0.00%</text>
<text class="a" x="510" y="77">199</text><text class="b2" x="510" y="90">145929</text><text class="c3" x="510" y="102.5">0.00%</text>
<text class="a" x="750" y="77">212</text><text class="b2" x="750" y="90">147201</text><text class="c3" x="750" y="102.5">0.00%</text>
<text class="a" x="990" y="77">205</text><text class="b2" x="990" y="90">148431</text><text class="c3" x="990" y="102.5">0.00%</text>
</g>

<g id="row23" transform="translate(0,3307)">
<use href="#staff"/>
<g id="m89"><use href="#pC" x="31.5"/></g>
<g id="m90"><use href="#pE" x="271.5"/></g>
<g id="m91"><use href="#pC" x="511.5"/></g>
<g id="m92"><use href="#pD" x="751.5"/></g>
<text class="tp" x="31" y="-20">♩=134</text><text class="tp" x="271" y="-20">♩=133</text><text class="tp" x="511" y="-20">♩=132</text><text class="tp" x="751" y="-20">♩=134</text>
<text class="mn" x="31" y="-7">89</text><text class="mn" x="271" y="-7">90</text><text class="mn" x="511" y="-7">91</text><text class="mn" x="751" y="-7">92</text>
<text class="a" x="270" y="77">212</text><text class="b2" x="270" y="90">149703</text><text class="c3" x="270" y="102.5">0.00%</text>
<text class="a" x="510" y="77">199</text><text class="b2" x="510" y="90">150897</text><text class="c3" x="510" y="102.5">0.00%</text>
<text class="a" x="750" y="77">212</text><text class="b2" x="750" y="90">152169</text><text class="c3" x="750" y="102.5">0.00%</text>
<text class="a" x="990" y="77">224</text><text class="b2" x="990" y="90">153513</text><text class="c3" x="990" y="102.5">0.00%</text>
</g>

<g id="row24" transform="translate(0,3448)">
<use href="#staff"/>
<g id="m93" transform="translate(31.5,0)"><rect class="y" x="20" y="27" width="30" height="7"/><rect class="o" x="60" y="58" width="30" height="7"/><rect class="b" x="140" y="42" width="30" height="7"/><rect class="o" x="180" y="58" width="30" height="7"/><use href="#R"/><use href="#Y" x="20"/><use href="#O" x="60"/><use href="#B" x="100"/><use href="#Y" x="120"/><use href="#B" x="140"/><use href="#O" x="180"/><use href="#R" x="220"/></g>
<g id="m94"><use href="#pD" x="271.5"/></g>
<g id="m95" transform="translate(511.5,0)"><rect class="y" x="20" y="27" width="30" height="7"/><rect class="b" x="60" y="42" width="30" height="7"/><use href="#R"/><use href="#Y" x="20"/><use href="#B" x="60"/><use href="#O" x="100"/><use href="#G" x="120"/><use href="#R" x="140"/><use href="#Y" x="160"/><use href="#B" x="180"/><use href="#O" x="200"/><use href="#R" x="220"/></g>
<g id="m96"><rect class="y" x="751.5" y="27" width="118" height="7"/><use href="#Y" x="751.5"/></g>
<text class="tp" x="31" y="-20">♩=136</text><text class="tp" x="271" y="-20">♩=134</text>
<text class="mn" x="31" y="-7">93</text><text class="mn" x="271" y="-7">94</text><text class="mn" x="511" y="-7">95</text><text class="mn" x="751" y="-7">96</text>
<text class="a" x="270" y="77">224</text><text class="b2" x="270" y="90">154857</text><text class="c3" x="270" y="102.5">0.00%</text>
<text class="a" x="510" y="77">224</text><text class="b2" x="510" y="90">156201</text><text class="c3" x="510" y="102.5">0.00%</text>
<text class="a" x="750" y="77">262</text><text class="b2" x="750" y="90">157773</text><text class="c3" x="750" y="102.5">0.00%</text>
<text class="a" x="990" y="77">49</text><text class="b2" x="990" y="90">158067</text><text class="c3" x="990" y="102.5">0.00%</text>
</g>
</svg>
